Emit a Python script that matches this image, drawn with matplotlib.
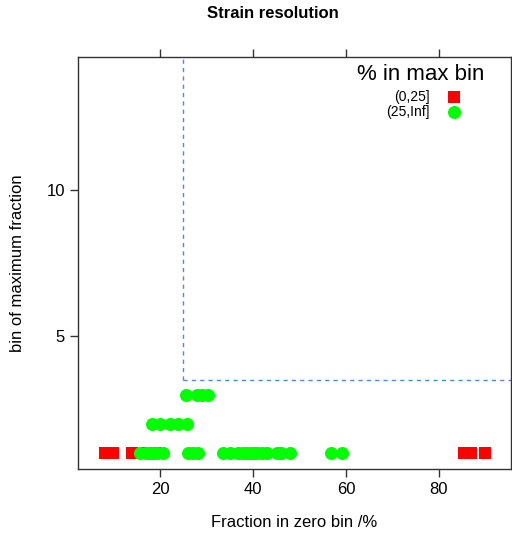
import numpy as np
import matplotlib.pyplot as plt

plt.rcParams['font.family'] = ['Liberation Sans', 'DejaVu Sans']

# points with maximum bin fraction in (0,25]
low_x = [8.2, 9.9, 14.0, 17.0, 19.0, 85.4, 86.8, 89.9]
low_y = [1, 1, 1, 1, 1, 1, 1, 1]

# points with maximum bin fraction in (25,Inf]
high_x = [15.7, 17.0, 17.6, 18.5, 19.4, 20.6,
          26.0, 27.0, 28.2,
          33.5, 35.0, 36.8, 37.8, 38.7, 39.5, 40.2, 40.9, 42.0, 43.0, 45.2, 46.0, 48.0,
          56.8, 59.1,
          18.3, 20.0, 22.2, 23.9, 25.8,
          25.5, 28.0, 29.0, 30.3]
high_y = [1] * 24 + [2] * 5 + [3] * 4

x_cut = 25
y_cut = 3.5

fig = plt.figure( figsize = ( 5.12, 5.37 ), dpi = 100 )
ax = fig.add_axes( [ 78 / 512, 68 / 537, 433 / 512, 412 / 537 ] )

ax.scatter( low_x, low_y, marker = 's', s = 8.6**2, color = '#ff0000',
            linewidths = 0, zorder = 3 )
ax.scatter( high_x, high_y, marker = 'o', s = 9.4**2, color = '#00ff00',
            linewidths = 0, zorder = 4 )

ax.plot( [ x_cut, x_cut ], [ y_cut, 20 ], '--', color = '#4f8ad6', lw = 1,
         dashes = ( 3, 3 ), zorder = 2 )
ax.plot( [ x_cut, 200 ], [ y_cut, y_cut ], '--', color = '#4f8ad6', lw = 1,
         dashes = ( 3, 3 ), zorder = 2 )

ax.set_xlim( 2.37, 95.5 )
ax.set_ylim( 0.45, 14.56 )
ax.set_xticks( [ 20, 40, 60, 80 ] )
ax.set_yticks( [ 5, 10 ] )
ax.tick_params( direction = 'out', length = 6, width = 1, labelsize = 12,
                top = True, right = True, color = '#333333' )
for s in ax.spines.values():
    s.set_linewidth( 1 )
    s.set_color( '#333333' )

ax.set_xlabel( 'Fraction in zero bin /%', fontsize = 12, labelpad = 13 )
ax.set_ylabel( 'bin of maximum fraction', fontsize = 12, labelpad = 15 )
fig.text( 273 / 512, 1 - 14 / 537, 'Strain resolution', ha = 'center', va = 'center',
          fontsize = 12, fontweight = 'bold' )

# legend
fig.text( 421 / 512, 1 - 75 / 537, '% in max bin', ha = 'center', va = 'center',
          fontsize = 16 )
fig.text( 430 / 512, 1 - 97 / 537, '(0,25]', ha = 'right', va = 'center',
          fontsize = 10 )
fig.text( 430 / 512, 1 - 112 / 537, '(25,Inf]', ha = 'right', va = 'center',
          fontsize = 10 )
fig.lines.append( plt.Line2D( [ 454 / 512 ], [ 1 - 97 / 537 ], marker = 's',
                              ms = 8.6, color = '#ff0000', mew = 0,
                              transform = fig.transFigure ) )
fig.lines.append( plt.Line2D( [ 454 / 512 ], [ 1 - 112 / 537 ], marker = 'o',
                              ms = 9.4, color = '#00ff00', mew = 0,
                              transform = fig.transFigure ) )

plt.savefig( 'out.png', dpi = 100 )
plt.close()
